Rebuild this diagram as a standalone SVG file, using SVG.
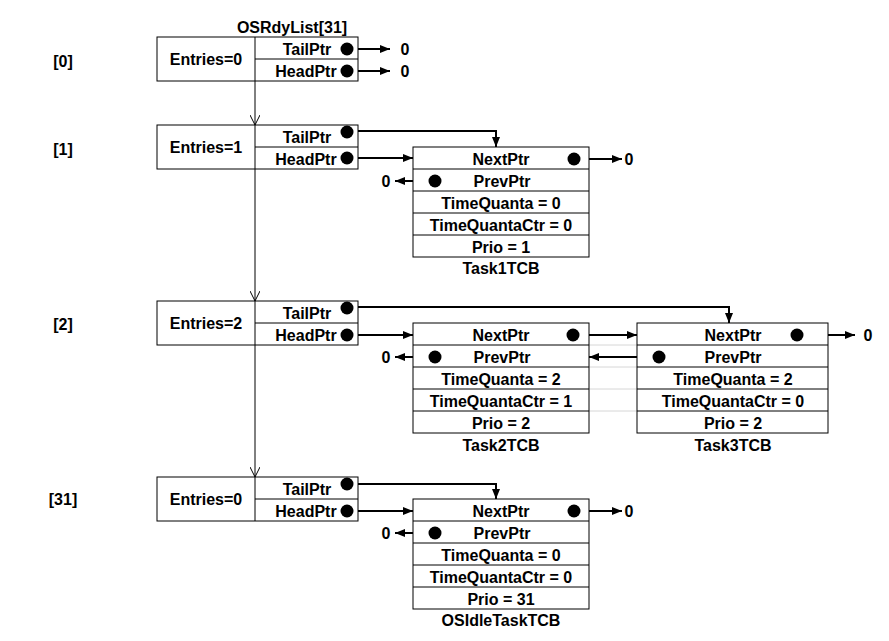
<svg xmlns="http://www.w3.org/2000/svg" width="889" height="641" viewBox="0 0 889 641">
<style>
text{font-family:"Liberation Sans",Arial,sans-serif;font-size:16px;font-weight:bold;fill:#000;text-anchor:middle}
.box{fill:#fff;stroke:#000;stroke-width:1}
.ln{stroke:#000;stroke-width:1;fill:none}
.ptr{stroke:#000;stroke-width:2;fill:none;marker-end:url(#ah)}
.ptrn{stroke:#000;stroke-width:2;fill:none}
.dot{fill:#000}
.ghost{stroke:#d6d6d6;stroke-width:1}
.vl{stroke:#000;stroke-width:1;fill:none;marker-end:url(#ov)}
</style>
<defs>
<marker id="ah" viewBox="0 0 10 8" refX="10" refY="4" markerWidth="10" markerHeight="8" markerUnits="userSpaceOnUse" orient="auto"><path d="M0,0 L10,4 L0,8 z" fill="#000"/></marker>
<marker id="ov" viewBox="0 0 10 10" refX="10" refY="5" markerWidth="10" markerHeight="10" markerUnits="userSpaceOnUse" orient="auto"><path d="M0,0 L10,5 L0,10" fill="none" stroke="#000" stroke-width="1"/></marker>
</defs>
<rect width="889" height="641" fill="#fff"/>

<text x="292" y="33">OSRdyList[31]</text>
<text x="63" y="67">[0]</text>
<text x="63" y="155">[1]</text>
<text x="63" y="330">[2]</text>
<text x="63" y="505">[31]</text>

<g id="connectors">
<line class="vl" x1="255" y1="81" x2="255" y2="125"/>
<line class="vl" x1="255" y1="169" x2="255" y2="301"/>
<line class="vl" x1="255" y1="345" x2="255" y2="477"/>
<line class="ghost" x1="589" y1="345" x2="637" y2="345"/>
<line class="ghost" x1="589" y1="367" x2="637" y2="367"/>
<line class="ghost" x1="589" y1="389" x2="637" y2="389"/>
<line class="ghost" x1="589" y1="411" x2="637" y2="411"/>
<!-- row 0 -->
<line class="ptr" x1="347" y1="49" x2="390" y2="49"/>
<line class="ptr" x1="347" y1="71" x2="390" y2="71"/>
<!-- row 1 -->
<path class="ptr" d="M347,131 H496 V147"/>
<line class="ptr" x1="347" y1="158" x2="413" y2="158"/>
<line class="ptr" x1="574" y1="159" x2="622" y2="159"/>
<line class="ptr" x1="435" y1="181" x2="395" y2="181"/>
<!-- row 2 -->
<path class="ptr" d="M347,307 H729 V323"/>
<line class="ptr" x1="347" y1="335" x2="413" y2="335"/>
<line class="ptr" x1="573" y1="335" x2="637" y2="335"/>
<line class="ptr" x1="435" y1="357" x2="395" y2="357"/>
<line class="ptr" x1="797" y1="335" x2="855" y2="335"/>
<line class="ptr" x1="659" y1="357" x2="589" y2="357"/>
<!-- row 31 -->
<path class="ptr" d="M347,484 H496 V499"/>
<line class="ptr" x1="347" y1="511" x2="413" y2="511"/>
<line class="ptr" x1="574" y1="511" x2="622" y2="511"/>
<line class="ptr" x1="435" y1="533" x2="395" y2="533"/>
</g>

<g id="list0">
<rect class="box" x="157" y="37" width="201" height="44"/>
<line class="ln" x1="255" y1="37" x2="255" y2="81"/>
<line class="ln" x1="255" y1="59" x2="358" y2="59"/>
<text x="206" y="65">Entries=0</text>
<text x="307" y="55">TailPtr</text>
<text x="306" y="77">HeadPtr</text>
<circle class="dot" cx="347" cy="49" r="6.5"/>
<circle class="dot" cx="347" cy="71" r="6.5"/>
<text x="405" y="55">0</text>
<text x="405" y="77">0</text>
</g>

<g id="list1">
<rect class="box" x="157" y="125" width="201" height="44"/>
<line class="ln" x1="255" y1="125" x2="255" y2="169"/>
<line class="ln" x1="255" y1="147" x2="358" y2="147"/>
<text x="206" y="153">Entries=1</text>
<text x="307" y="143">TailPtr</text>
<text x="306" y="165">HeadPtr</text>
<circle class="dot" cx="347" cy="132" r="6.5"/>
<circle class="dot" cx="347" cy="158" r="6.5"/>
</g>

<g id="list2">
<rect class="box" x="157" y="301" width="201" height="44"/>
<line class="ln" x1="255" y1="301" x2="255" y2="345"/>
<line class="ln" x1="255" y1="323" x2="358" y2="323"/>
<text x="206" y="329">Entries=2</text>
<text x="307" y="319">TailPtr</text>
<text x="306" y="341">HeadPtr</text>
<circle class="dot" cx="347" cy="308" r="6.5"/>
<circle class="dot" cx="347" cy="335" r="6.5"/>
</g>

<g id="list31">
<rect class="box" x="157" y="477" width="201" height="44"/>
<line class="ln" x1="255" y1="477" x2="255" y2="521"/>
<line class="ln" x1="255" y1="499" x2="358" y2="499"/>
<text x="206" y="505">Entries=0</text>
<text x="307" y="495">TailPtr</text>
<text x="306" y="517">HeadPtr</text>
<circle class="dot" cx="347" cy="484" r="6.5"/>
<circle class="dot" cx="347" cy="511" r="6.5"/>
</g>

<g id="task1">
<rect class="box" x="413" y="147" width="176" height="110"/>
<line class="ln" x1="413" y1="169" x2="589" y2="169"/>
<line class="ln" x1="413" y1="191" x2="589" y2="191"/>
<line class="ln" x1="413" y1="213" x2="589" y2="213"/>
<line class="ln" x1="413" y1="235" x2="589" y2="235"/>
<text x="501" y="165">NextPtr</text>
<text x="502" y="187">PrevPtr</text>
<text x="501" y="209">TimeQuanta = 0</text>
<text x="501" y="231">TimeQuantaCtr = 0</text>
<text x="501" y="253">Prio = 1</text>
<circle class="dot" cx="574" cy="159" r="6.5"/>
<circle class="dot" cx="435" cy="181" r="6.5"/>
<text x="629" y="165">0</text>
<text x="386" y="187">0</text>
<text x="501" y="274">Task1TCB</text>
</g>

<g id="task2">
<rect class="box" x="413" y="323" width="176" height="110"/>
<line class="ln" x1="413" y1="345" x2="589" y2="345"/>
<line class="ln" x1="413" y1="367" x2="589" y2="367"/>
<line class="ln" x1="413" y1="389" x2="589" y2="389"/>
<line class="ln" x1="413" y1="411" x2="589" y2="411"/>
<text x="501" y="341">NextPtr</text>
<text x="502" y="363">PrevPtr</text>
<text x="501" y="385">TimeQuanta = 2</text>
<text x="501" y="407">TimeQuantaCtr = 1</text>
<text x="501" y="429">Prio = 2</text>
<circle class="dot" cx="573" cy="335" r="6.5"/>
<circle class="dot" cx="435" cy="357" r="6.5"/>
<text x="386" y="363">0</text>
<text x="501" y="451">Task2TCB</text>
</g>

<g id="task3">
<rect class="box" x="637" y="323" width="191" height="110"/>
<line class="ln" x1="637" y1="345" x2="828" y2="345"/>
<line class="ln" x1="637" y1="367" x2="828" y2="367"/>
<line class="ln" x1="637" y1="389" x2="828" y2="389"/>
<line class="ln" x1="637" y1="411" x2="828" y2="411"/>
<text x="733" y="341">NextPtr</text>
<text x="733" y="363">PrevPtr</text>
<text x="733" y="385">TimeQuanta = 2</text>
<text x="733" y="407">TimeQuantaCtr = 0</text>
<text x="733" y="429">Prio = 2</text>
<circle class="dot" cx="797" cy="335" r="6.5"/>
<circle class="dot" cx="659" cy="357" r="6.5"/>
<text x="868" y="341">0</text>
<text x="733" y="451">Task3TCB</text>
</g>

<g id="idletask">
<rect class="box" x="413" y="499" width="176" height="110"/>
<line class="ln" x1="413" y1="521" x2="589" y2="521"/>
<line class="ln" x1="413" y1="543" x2="589" y2="543"/>
<line class="ln" x1="413" y1="565" x2="589" y2="565"/>
<line class="ln" x1="413" y1="587" x2="589" y2="587"/>
<text x="501" y="517">NextPtr</text>
<text x="502" y="539">PrevPtr</text>
<text x="501" y="561">TimeQuanta = 0</text>
<text x="501" y="583">TimeQuantaCtr = 0</text>
<text x="501" y="605">Prio = 31</text>
<circle class="dot" cx="574" cy="511" r="6.5"/>
<circle class="dot" cx="435" cy="533" r="6.5"/>
<text x="629" y="517">0</text>
<text x="386" y="539">0</text>
<text x="501" y="626">OSIdleTaskTCB</text>
</g>
</svg>
